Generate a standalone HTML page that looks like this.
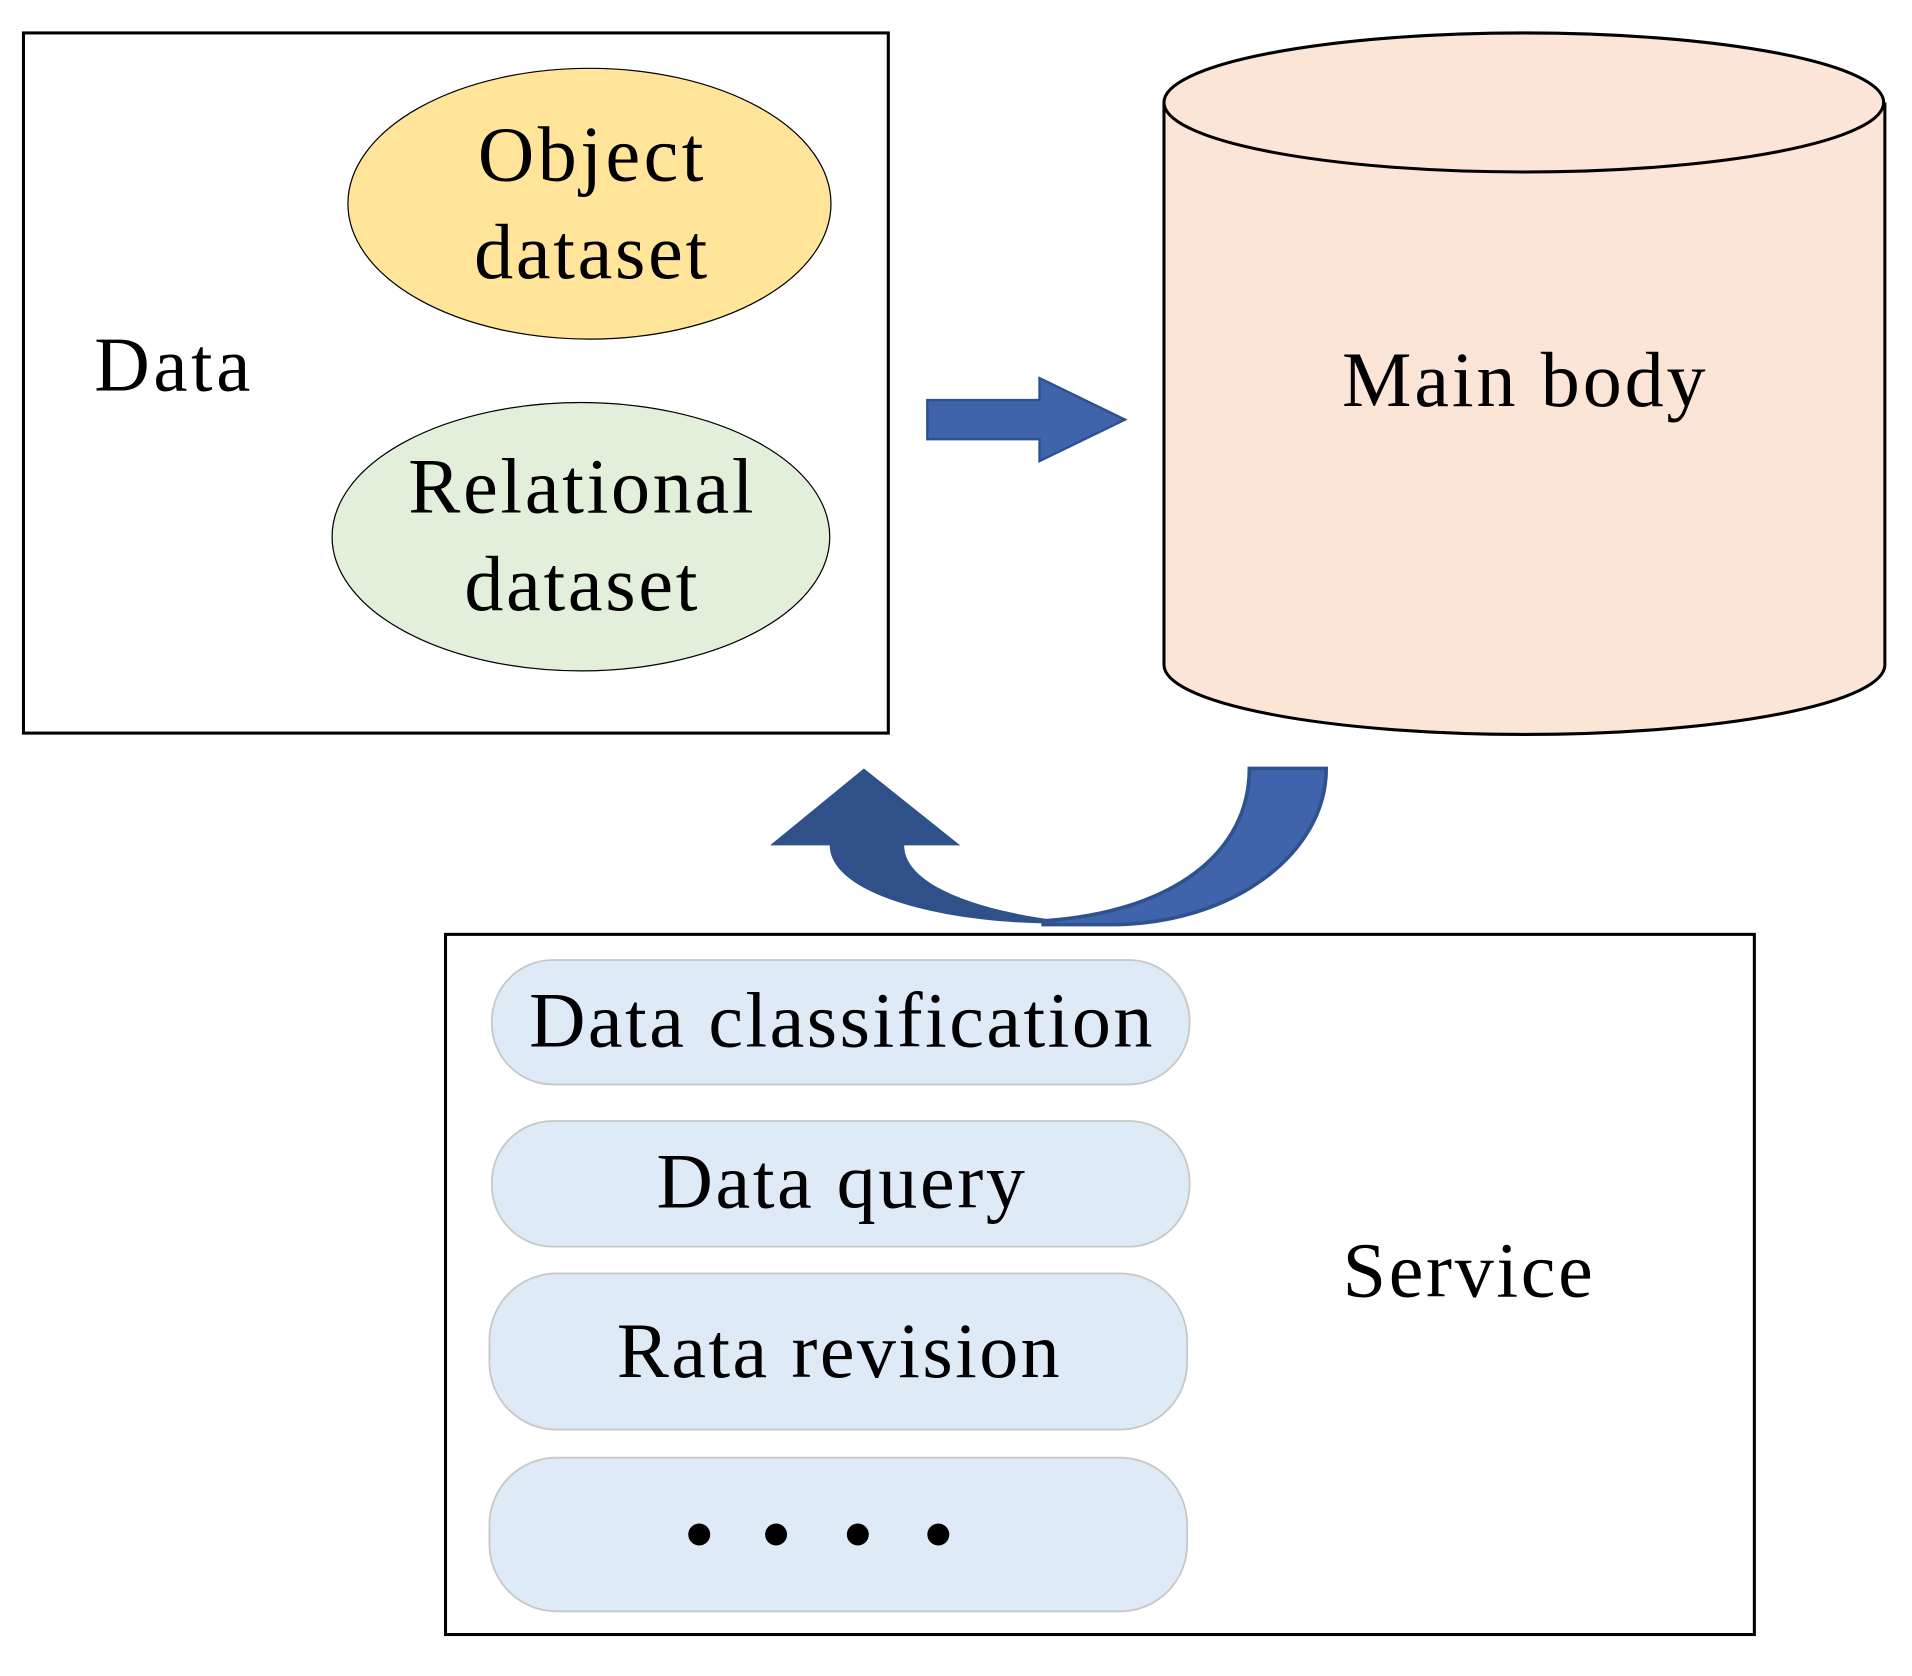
<!DOCTYPE html>
<html><head><style>html,body{margin:0;padding:0;background:#fff}svg{display:block}</style></head>
<body>
<svg width="1912" height="1676" viewBox="0 0 1567 1374" xmlns="http://www.w3.org/2000/svg" font-family="Liberation Serif, serif">
<rect x="19" y="27" width="709" height="574" fill="#fff" stroke="#000" stroke-width="2.5"/>
<text x="141" y="320" font-size="63" text-anchor="middle" textLength="128" lengthAdjust="spacing">Data</text>
<ellipse cx="483" cy="167" rx="198" ry="111" fill="#FFE499" stroke="#000" stroke-width="1"/>
<text x="484" y="148" font-size="64" text-anchor="middle" textLength="185" lengthAdjust="spacing">Object</text>
<text x="484" y="228" font-size="64" text-anchor="middle" textLength="191" lengthAdjust="spacing">dataset</text>
<ellipse cx="476" cy="440" rx="204" ry="110" fill="#E2EFDA" stroke="#000" stroke-width="1"/>
<text x="476" y="420" font-size="64" text-anchor="middle" textLength="283" lengthAdjust="spacing">Relational</text>
<text x="476" y="500" font-size="64" text-anchor="middle" textLength="191" lengthAdjust="spacing">dataset</text>
<path d="M760,328 L852,328 L852,310 L922,344 L852,378 L852,360 L760,360 Z" fill="#3F64AC" stroke="#2F528F" stroke-width="2"/>
<path d="M954,84 L954,545 A295,57 0 0 0 1545,545 L1545,84" fill="#FBE5D6" stroke="#000" stroke-width="2.5"/>
<ellipse cx="1249" cy="84" rx="295" ry="57" fill="#FBE5D6" stroke="#000" stroke-width="2.5"/>
<text x="1249" y="333" font-size="64" text-anchor="middle" textLength="298" lengthAdjust="spacing">Main body</text>
<path d="M855,757 C760,755 680,730 680,693 L631,693 L708,630 L787,693 L741,693 C741,722 790,745 870,755 Z" fill="#2F5089"/>
<path d="M1024,630 L1087,630 C1087,700 1010,758 910,758 L855,758 L855,755 C960,748 1024,700 1024,630 Z" fill="#3F64AC" stroke="#2F528F" stroke-width="3"/>
<rect x="365" y="766" width="1073" height="574" fill="none" stroke="#000" stroke-width="2.5"/>
<rect x="403" y="787" width="572" height="102" rx="50" fill="#DEEBF7" stroke="#c8c8c8" stroke-width="1.5"/>
<text x="689" y="858" font-size="64" text-anchor="middle" textLength="511" lengthAdjust="spacing">Data classification</text>
<rect x="403" y="919" width="572" height="103" rx="50" fill="#DEEBF7" stroke="#c8c8c8" stroke-width="1.5"/>
<text x="689" y="990" font-size="64" text-anchor="middle" textLength="302" lengthAdjust="spacing">Data query</text>
<rect x="401" y="1044" width="572" height="128" rx="55" fill="#DEEBF7" stroke="#c8c8c8" stroke-width="1.5"/>
<text x="687" y="1129" font-size="64" text-anchor="middle" textLength="363" lengthAdjust="spacing">Rata revision</text>
<rect x="401" y="1195" width="572" height="126" rx="55" fill="#DEEBF7" stroke="#c8c8c8" stroke-width="1.5"/>
<circle cx="573" cy="1258" r="9"/><circle cx="636" cy="1258" r="9"/><circle cx="703" cy="1258" r="9"/><circle cx="769" cy="1258" r="9"/>
<text x="1203" y="1063" font-size="64" text-anchor="middle" textLength="205" lengthAdjust="spacing">Service</text>
</svg>
</body></html>
